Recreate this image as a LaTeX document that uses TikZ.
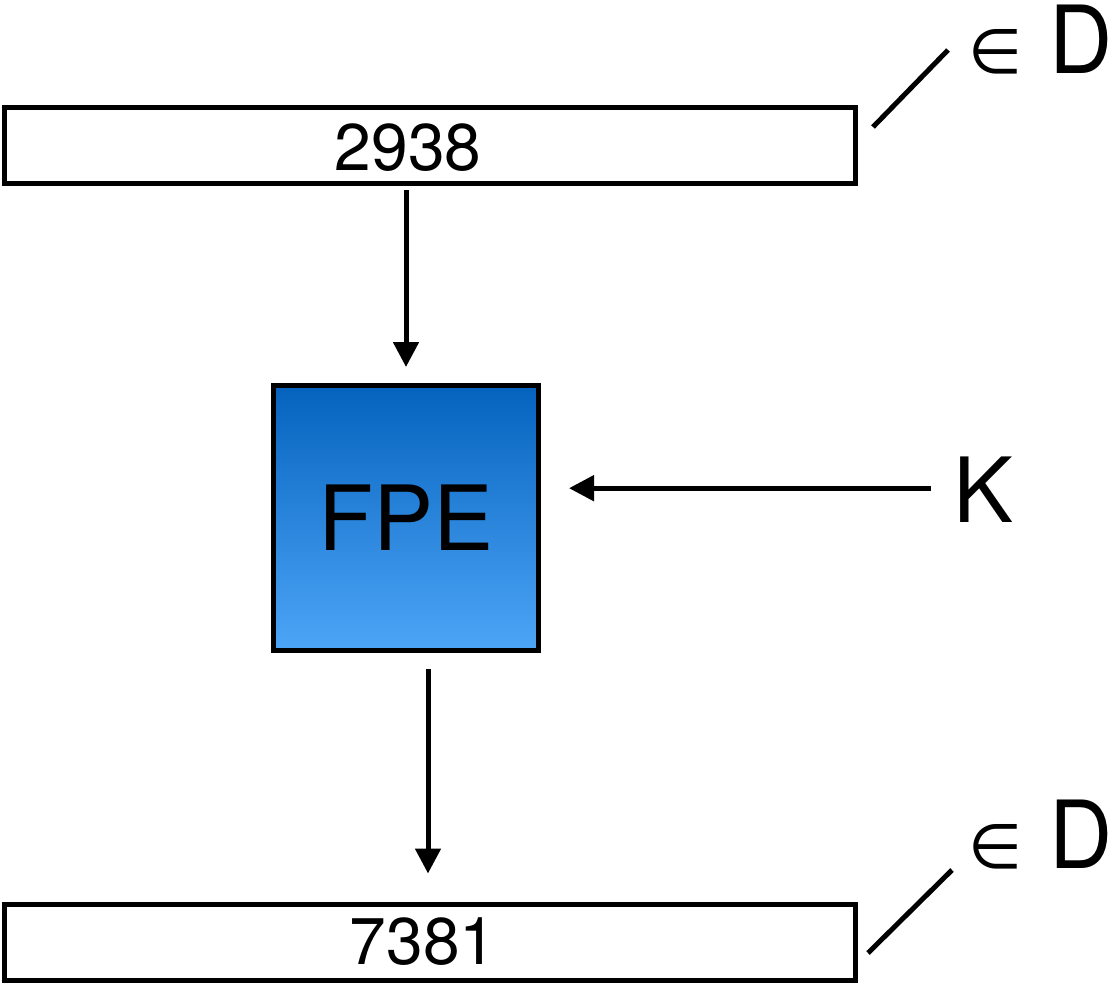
\documentclass[tikz,border=0pt]{standalone}
\usepackage{fontspec}
\setmainfont{TeX Gyre Heros}
\newfontfamily\dejavu{DejaVu Sans}
\usetikzlibrary{arrows.meta,calc}
\definecolor{fpetop}{HTML}{0563BE}
\definecolor{fpebot}{HTML}{4DA5F7}
\begin{document}
\begin{tikzpicture}[x=0.5pt,y=-0.5pt,
  databox/.style={draw=black,line width=2.5pt,fill=white,inner sep=0pt,
    minimum width=425.5pt,minimum height=38pt},
  fpebox/.style={draw=black,line width=2.5pt,inner sep=0pt,
    minimum width=132.5pt,minimum height=132.5pt,
    top color=fpetop,bottom color=fpebot},
  arr/.style={line width=2.5pt,-{Triangle[length=12.5pt,width=12.5pt]}},
  conn/.style={line width=2.5pt},
  numtxt/.style={font=\fontsize{33}{38}\selectfont},
  bigtxt/.style={font=\fontsize{45}{54}\selectfont},
  domtxt/.style={inner sep=0pt,anchor=base west}]
\useasboundingbox (0,0) rectangle (1113,985);
% boxes
\node[databox,label={[numtxt,xshift=-11pt,yshift=-1pt]center:2938}] (top) at (430,145.5) {};
\node[fpebox,bigtxt] (fpe) at (406,518) {FPE};
\node[databox,label={[numtxt,xshift=-3.5pt]center:7381}] (bot) at (430,942) {};
% key
\node[inner sep=0pt,anchor=base west,font=\fontsize{45}{54}\selectfont] (key) at (953,522) {K};
% domain labels
\node[domtxt] (domtop) at (968,73) {{\dejavu\fontsize{31}{36}\selectfont ∈}\hspace{13.5pt}{\fontsize{47}{54}\selectfont\scalebox{0.93}[1]{D}}};
\node[domtxt] (dombot) at (968,868) {{\dejavu\fontsize{31}{36}\selectfont ∈}\hspace{13.5pt}{\fontsize{47}{54}\selectfont\scalebox{0.93}[1]{D}}};
\coordinate (dt1) at (873,127);
\coordinate (dt2) at (948,50);
\coordinate (db1) at (868,953);
\coordinate (db2) at (952,870);
\coordinate (kstart) at ($(key.west)+(-22,-1)$);
% connectors
\draw[arr,shorten <=2pt,shorten >=8pt] (top.south -| fpe.north) -- (fpe.north);
\draw[arr,shorten >=14pt] (kstart) -- (kstart -| fpe.east);
\draw[arr,shorten <=8pt,shorten >=14pt] (fpe.south -| 428,0) -- (bot.north -| 428,0);
\draw[conn] (dt1) -- (dt2);
\draw[conn] (db1) -- (db2);
\end{tikzpicture}
\end{document}
